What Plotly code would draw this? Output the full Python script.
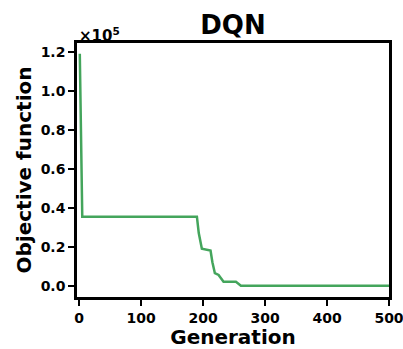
import plotly.graph_objects as go

# Data (objective values in absolute units)
generation = [1, 5, 190, 193, 198, 212, 215, 219, 225, 229, 233, 253, 258, 261, 500]
objective = [119000, 35400, 35400, 27000, 19000, 18000, 12000, 6400, 5500, 3500, 2000, 2000, 500, 0, 0]

x_ticks = [0, 100, 200, 300, 400, 500]
y_tickvals = [0, 20000, 40000, 60000, 80000, 100000, 120000]
y_ticktext = ["0.0", "0.2", "0.4", "0.6", "0.8", "1.0", "1.2"]

FONT = "DejaVu Sans"
fig = go.Figure()
fig.add_trace(go.Scatter(x=generation, y=objective, mode="lines",
                         line=dict(color="#44a55c", width=2.5), showlegend=False))

axis_common = dict(showline=True, linecolor="black", linewidth=2.5, mirror=True,
                   ticks="outside", ticklen=6, tickwidth=2, tickcolor="black",
                   showgrid=False, zeroline=False, automargin=False,
                   ticklabeloverflow="allow",
                   tickfont=dict(family=FONT, size=14, color="black", weight="bold"))

fig.update_layout(
    width=403, height=349,
    margin=dict(l=77, r=14, t=43, b=52),
    paper_bgcolor="white", plot_bgcolor="white",
    title=dict(text="<b>DQN</b>", x=233 / 403, xanchor="center", y=1 - 25 / 349, yanchor="middle",
               font=dict(family=FONT, size=26, color="black")),
    xaxis=dict(range=[-3.5, 500], tickvals=x_ticks,
               title=dict(text="<b>Generation</b>", standoff=2,
                          font=dict(family=FONT, size=20, color="black")),
               **axis_common),
    yaxis=dict(range=[-5800, 124500], tickvals=y_tickvals, ticktext=y_ticktext,
               title=dict(text="<b>Objective function</b>", standoff=4,
                          font=dict(family=FONT, size=20, color="black")),
               **axis_common),
)
fig.add_annotation(text="<b>×10<sup>5</sup></b>", xref="paper", yref="paper",
                   x=0.0, y=1.0, xanchor="left", yanchor="bottom", showarrow=False,
                   font=dict(family=FONT, size=15, color="black"), yshift=-4)

fig.write_html("out.html")
